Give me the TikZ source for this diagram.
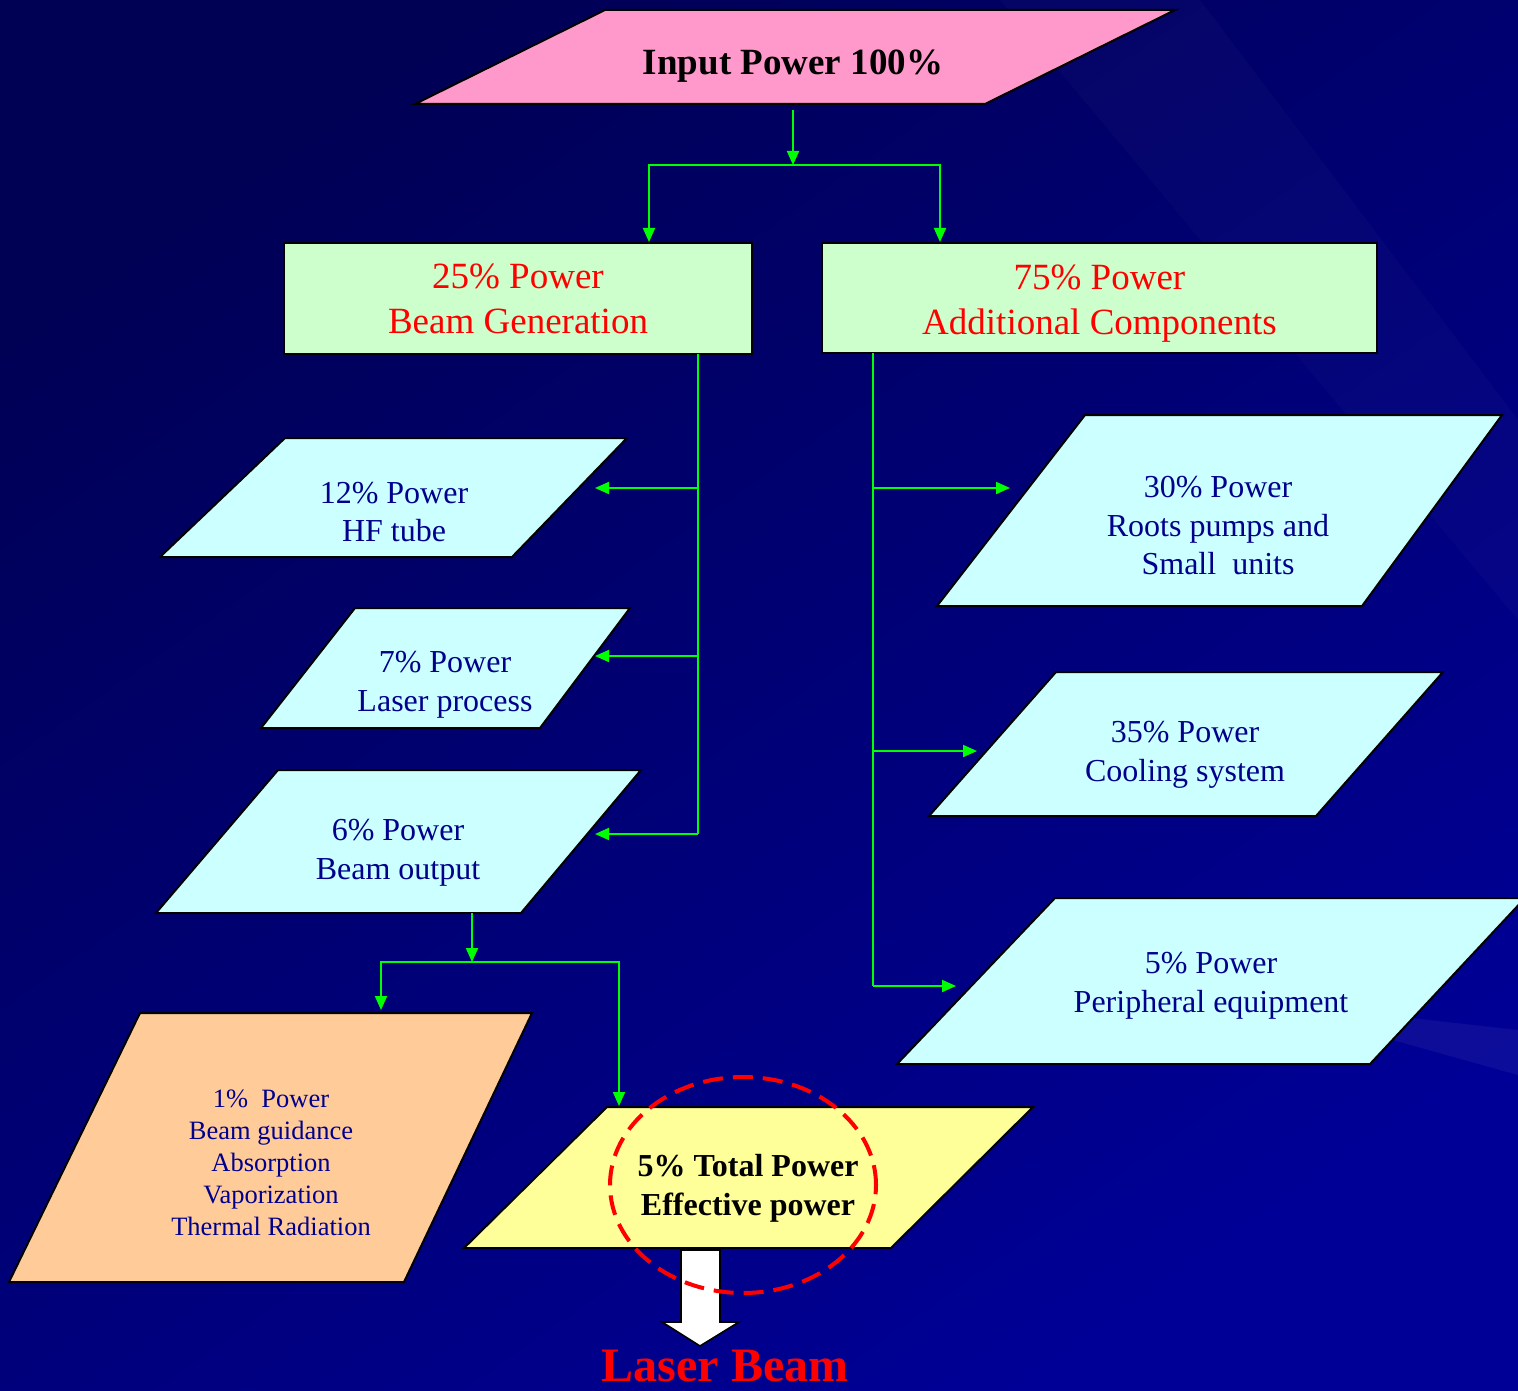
\documentclass[tikz,border=0pt]{standalone}
\usepackage{fontspec}
\setmainfont{Liberation Serif}
\usetikzlibrary{arrows.meta}

\definecolor{bgdark}{RGB}{0,0,85}
\definecolor{bglight}{RGB}{0,0,150}
\definecolor{pinkbox}{RGB}{255,153,204}
\definecolor{greenbox}{RGB}{204,255,204}
\definecolor{cyanbox}{RGB}{204,255,255}
\definecolor{peachbox}{RGB}{255,204,153}
\definecolor{yellowbox}{RGB}{255,255,153}
\definecolor{flowgreen}{RGB}{0,255,0}
\definecolor{navytext}{RGB}{0,0,140}

\tikzset{
	flow/.style={flowgreen, line width=1pt},
	shapeline/.style={draw=black, line width=1pt},
	redtxt/.style={text=red, align=center, font=\fontsize{18.5}{22.5}\selectfont},
	bluetxt/.style={text=navytext, align=center, font=\fontsize{16}{19.25}\selectfont},
	smalltxt/.style={text=navytext, align=center, font=\fontsize{13.25}{16}\selectfont},
}

\begin{document}
\begin{tikzpicture}
[x=0.5pt, y=-0.5pt, >={Triangle[length=7pt,width=6pt]}]
	
	\useasboundingbox (0,0) rectangle (1518,1390);
	% background
	\shade[top color=bgdark, bottom color=bglight, shading angle=35] (0,0) rectangle (1518,1390);
	\fill[white, opacity=0.02] (1000,0) -- (1200,0) -- (1518,420) -- (1518,620) -- cycle;
	\fill[white, opacity=0.05] (1250,1000) -- (1518,1030) -- (1518,1075) -- cycle;
	
	% input
	\draw[shapeline, fill=pinkbox] (605,10) -- (1175,10) -- (985,104) -- (415,104) -- cycle;
	\node[font=\bfseries\fontsize{18.5}{22}\selectfont] (input) at (793,66) {Input Power 100\%};
	
	% first split
	\node[shapeline, fill=greenbox, minimum width=234pt, minimum height=55.5pt, redtxt] (gen) at (518,298.5) 
	{25\% Power\\Beam Generation};
	\node[shapeline, fill=greenbox, minimum width=277.5pt, minimum height=55pt] (add) at (1099.5,298) {};
	\node[redtxt] (addtxt) at ([yshift=-3pt]add.center) {75\% Power\\Additional Components};
	
	\coordinate (inout) at (793,110);
	\coordinate (split) at (793,165);
	\coordinate (genin) at (649,242);
	\coordinate (addin) at (940,242);
	\draw[flow, ->] (inout) -- (split);
	\draw[flow, ->] (split) -| (genin);
	\draw[flow, ->] (split) -| (addin);
	
	% beam generation side
	\draw[shapeline, fill=cyanbox] (285,438) -- (627,438) -- (512,557) -- (160,557) -- cycle;
	\node[bluetxt] (hf) at (394,512) {12\% Power\\HF tube};
	\draw[shapeline, fill=cyanbox] (355,608) -- (630,608) -- (540,728) -- (261,728) -- cycle;
	\node[bluetxt] (proc) at (445,685) {7\% Power\\Laser process};
	\draw[shapeline, fill=cyanbox] (278,770) -- (641,770) -- (521,913) -- (156,913) -- cycle;
	\node[bluetxt] (out) at (398,853) {6\% Power\\Beam output};
	
	\coordinate (gtop) at (698,354);
	\coordinate (g1) at (698,488);
	\coordinate (g2) at (698,656);
	\coordinate (g3) at (698,834);
	\coordinate (hfin) at (595,488);
	\coordinate (procin) at (595,656);
	\coordinate (outin) at (595,834);
	\draw[flow] (gtop) -- (g3);
	\draw[flow, ->] (g1) -- (hfin);
	\draw[flow, ->] (g2) -- (procin);
	\draw[flow, ->] (g3) -- (outin);
	
	% additional components side
	\draw[shapeline, fill=cyanbox] (1085,415) -- (1502,415) -- (1362,606) -- (937,606) -- cycle;
	\node[bluetxt] (pumps) at (1218,526) {30\% Power\\Roots pumps and\\Small\ \ units};
	\draw[shapeline, fill=cyanbox] (1056,672) -- (1443,672) -- (1316,816) -- (929,816) -- cycle;
	\node[bluetxt] (cool) at (1185,755) {35\% Power\\Cooling system};
	\draw[shapeline, fill=cyanbox] (1055,898) -- (1525,898) -- (1370,1064) -- (897,1064) -- cycle;
	\node[bluetxt] (peri) at (1211,986) {5\% Power\\Peripheral equipment};
	
	\coordinate (atop) at (873,353);
	\coordinate (a1) at (873,488);
	\coordinate (a2) at (873,751);
	\coordinate (a3) at (873,986);
	\coordinate (pumpsin) at (1010,488);
	\coordinate (coolin) at (977,751);
	\coordinate (periin) at (956,986);
	\draw[flow] (atop) -- (a3);
	\draw[flow, ->] (a1) -- (pumpsin);
	\draw[flow, ->] (a2) -- (coolin);
	\draw[flow, ->] (a3) -- (periin);
	
	% beam output split
	\draw[shapeline, fill=peachbox] (140,1013) -- (532,1013) -- (404,1282) -- (9,1282) -- cycle;
	\node[smalltxt] (loss) at (271,1163) 
	{1\%\ \ Power\\Beam guidance\\Absorption\\Vaporization\\Thermal Radiation};
	\draw[shapeline, fill=yellowbox] (607,1107) -- (1033,1107) -- (891,1248) -- (464,1248) -- cycle;
	\node[font=\bfseries\fontsize{16}{19.5}\selectfont, align=center] (eff) at (748,1188) 
	{5\% Total Power\\Effective power};
	
	\coordinate (bout) at (472,913);
	\coordinate (bsplit) at (472,962);
	\coordinate (lossin) at (381,1010);
	\coordinate (effin) at (619,1106);
	\draw[flow, ->] (bout) -- (bsplit);
	\draw[flow, ->] (bsplit) -| (lossin);
	\draw[flow, ->] (bsplit) -| (effin);
	
	% laser beam
	\node[text=red, font=\bfseries\fontsize{24}{28}\selectfont] (beam) at (725,1366) {Laser Beam};
	\draw[fill=white, line width=0.8pt] (681,1250) -- (720,1250) -- (720,1322) -- (739,1322) 
	-- (700,1346) -- (662,1322) -- (681,1322) -- cycle;
	\draw[red, line width=2pt, dash pattern=on 10pt off 5pt] (743,1185) ellipse [x radius=66.5pt, y radius=54pt];
\end{tikzpicture}
\end{document}
